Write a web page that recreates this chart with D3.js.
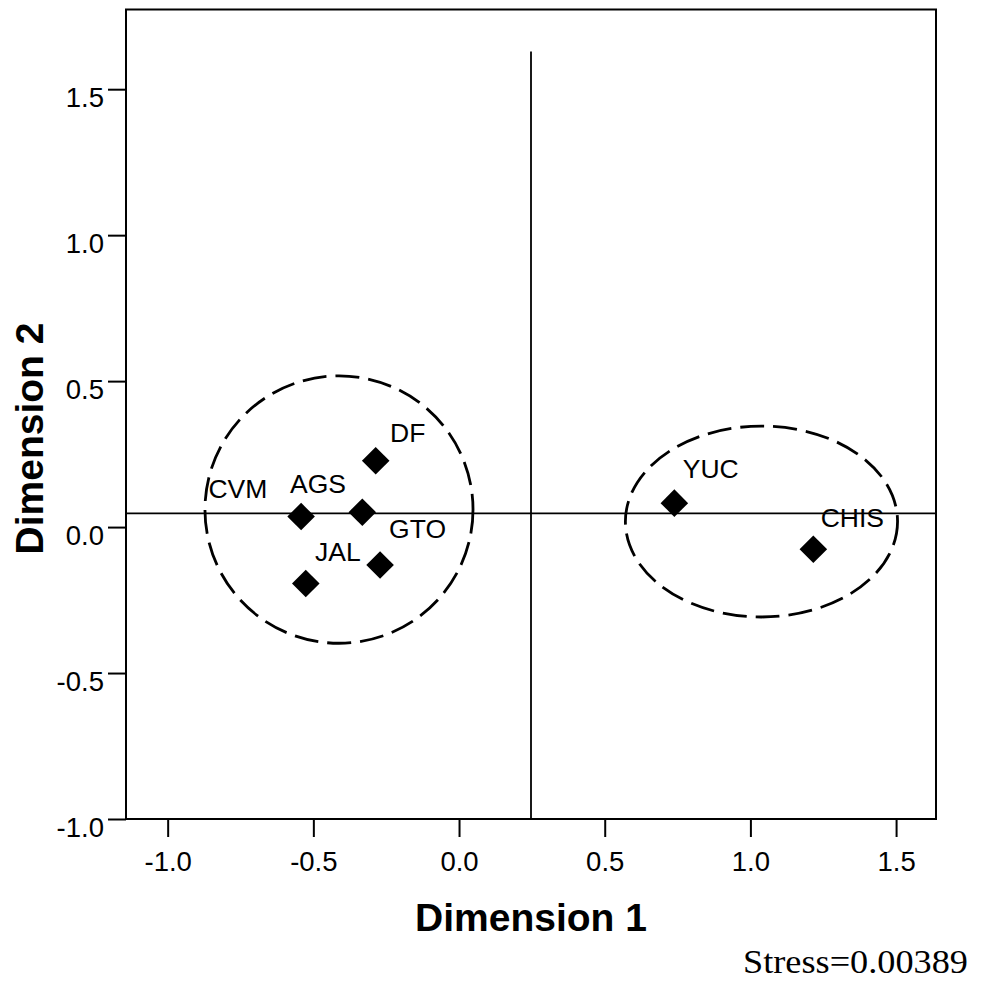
<!DOCTYPE html>
<html>
<head>
<meta charset="utf-8">
<script src="https://cdn.jsdelivr.net/npm/d3@7"></script>
<style>
  html, body { margin: 0; padding: 0; background: #fff; }
  svg { display: block; }
</style>
</head>
<body>
<svg id="chart" width="984" height="983"></svg>
<script>
// ---- data ----
const labels  = ["CVM", "AGS", "DF", "GTO", "JAL", "YUC", "CHIS"];
const dim1    = [-0.542, -0.332, -0.286, -0.271, -0.526, 0.739, 1.216];
const dim2    = [0.036, 0.051, 0.227, -0.130, -0.193, 0.082, -0.076];
const xTicks  = [-1.0, -0.5, 0.0, 0.5, 1.0, 1.5];
const yTicks  = [-1.0, -0.5, 0.0, 0.5, 1.0, 1.5];
// cluster ellipses: centre and radii in data units
const ellCx   = [-0.412, 1.038];
const ellCy   = [0.060, 0.019];
const ellRx   = [0.460, 0.467];
const ellRy   = [0.458, 0.327];
// reference lines
const refX    = 0.247;
const refXTop = 1.629;
const refY    = 0.047;
const stressText = "Stress=0.00389";

// ---- layout (pixel offsets for label placement) ----
const labelDx = [-92.7, -72.3, 14.3, 9.0, 9.3, 8.4, 7.4];
const labelDy = [-19.0, -19.0, -19.0, -26.7, -22.6, -25.0, -22.6];

(function () {
const svg = d3.select("#chart");
const pL = 126, pR = 936, pT = 9.5, pB = 819;

const x = d3.scaleLinear().domain([-1.143, 1.637]).range([pL, pR]);
const y = d3.scaleLinear().domain([-1.0, 1.773]).range([pB, pT]);

const sans = "'Liberation Sans', Arial, Helvetica, sans-serif";
const fmt = d => d.toFixed(1);

// frame
svg.append("rect")
  .attr("x", pL).attr("y", pT)
  .attr("width", pR - pL).attr("height", pB - pT)
  .attr("fill", "none").attr("stroke", "#000").attr("stroke-width", 2);

// axes
const xAxis = svg.append("g")
  .attr("transform", `translate(0,${pB})`)
  .call(d3.axisBottom(x).tickValues(xTicks).tickFormat(fmt).tickSize(18).tickSizeOuter(0));
xAxis.select(".domain").remove();
xAxis.selectAll(".tick line").attr("stroke", "#000").attr("stroke-width", 2);
xAxis.selectAll(".tick text")
  .attr("y", 51.7).attr("dy", 0)
  .attr("font-family", sans).attr("font-size", 27.5).attr("fill", "#000");

const yAxis = svg.append("g")
  .attr("transform", `translate(${pL},0)`)
  .call(d3.axisLeft(y).tickValues(yTicks).tickFormat(fmt).tickSize(18).tickSizeOuter(0));
yAxis.select(".domain").remove();
yAxis.selectAll(".tick line").attr("stroke", "#000").attr("stroke-width", 2);
yAxis.selectAll(".tick text")
  .attr("x", -22).attr("y", 17.4).attr("dy", 0)
  .attr("font-family", sans).attr("font-size", 27.5).attr("fill", "#000");

// reference lines
svg.append("line")
  .attr("x1", pL).attr("x2", pR)
  .attr("y1", y(refY)).attr("y2", y(refY))
  .attr("stroke", "#000").attr("stroke-width", 1.8);
svg.append("line")
  .attr("x1", x(refX)).attr("x2", x(refX))
  .attr("y1", y(refXTop)).attr("y2", pB)
  .attr("stroke", "#000").attr("stroke-width", 1.8);

// ellipses
svg.append("g").selectAll("ellipse")
  .data(d3.range(ellCx.length))
  .join("ellipse")
  .attr("cx", i => x(ellCx[i]))
  .attr("cy", i => y(ellCy[i]))
  .attr("rx", i => x(ellCx[i] + ellRx[i]) - x(ellCx[i]))
  .attr("ry", i => y(ellCy[i]) - y(ellCy[i] + ellRy[i]))
  .attr("fill", "none").attr("stroke", "#000")
  .attr("stroke-width", 2.8).attr("stroke-dasharray", "24,9");

// points
const idx = d3.range(labels.length);
svg.append("g").selectAll("path")
  .data(idx)
  .join("path")
  .attr("d", d3.symbol(d3.symbolSquare, 380))
  .attr("transform", i => `translate(${x(dim1[i])},${y(dim2[i])}) rotate(45)`)
  .attr("fill", "#000");

// point labels
svg.append("g").selectAll("text")
  .data(idx)
  .join("text")
  .attr("x", i => x(dim1[i]) + labelDx[i])
  .attr("y", i => y(dim2[i]) + labelDy[i])
  .attr("font-family", sans).attr("font-size", 26.5).attr("fill", "#000")
  .text(i => labels[i]);

// axis titles
svg.append("text")
  .attr("x", (pL + pR) / 2).attr("y", 930.7)
  .attr("text-anchor", "middle")
  .attr("font-family", sans).attr("font-weight", "bold").attr("font-size", 39)
  .text("Dimension 1");

svg.append("text")
  .attr("transform", "translate(43,438.5) rotate(-90)")
  .attr("text-anchor", "middle")
  .attr("font-family", sans).attr("font-weight", "bold").attr("font-size", 39)
  .text("Dimension 2");

// stress annotation
svg.append("text")
  .attr("x", 743).attr("y", 972.7)
  .attr("font-family", "'Liberation Serif', 'Times New Roman', serif")
  .attr("font-size", 34)
  .attr("textLength", 225).attr("lengthAdjust", "spacingAndGlyphs")
  .text(stressText);
})();
</script>
</body>
</html>
